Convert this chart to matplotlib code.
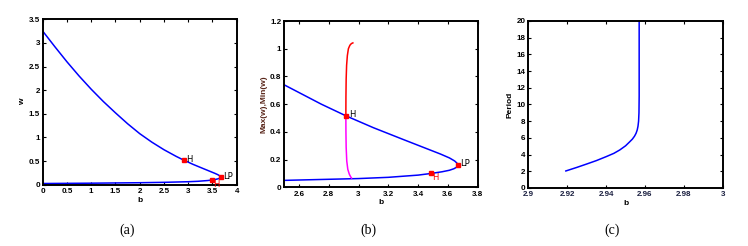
import matplotlib
matplotlib.use("Agg")
import matplotlib.pyplot as plt

# (a) equilibrium branch, b vs w
a_up_b = [0.0, 0.25, 0.5, 0.75, 1.0, 1.25, 1.5, 1.75, 2.0, 2.25, 2.5, 2.75, 2.915,
          3.1, 3.3, 3.45, 3.55, 3.61, 3.645, 3.66, 3.667]
a_up_w = [3.25, 2.92, 2.6, 2.3, 2.02, 1.76, 1.52, 1.29, 1.08, 0.9, 0.74, 0.6, 0.516,
          0.43, 0.345, 0.282, 0.24, 0.212, 0.19, 0.175, 0.16]
a_lo_b = [0.0, 1.0, 2.0, 2.5, 3.0, 3.2, 3.4, 3.487, 3.56, 3.61, 3.64, 3.658, 3.667]
a_lo_w = [0.025, 0.032, 0.042, 0.05, 0.063, 0.072, 0.088, 0.100, 0.112, 0.123, 0.134, 0.145, 0.16]

# (b) periodic orbit max / min
max_b = [2.915, 2.9155, 2.917, 2.92, 2.925, 2.932, 2.942, 2.952, 2.962]
max_w = [0.516, 0.65, 0.78, 0.88, 0.95, 1.0, 1.025, 1.037, 1.042]
min_b = [2.915, 2.9155, 2.917, 2.921, 2.928, 2.938, 2.947, 2.953]
min_w = [0.516, 0.40, 0.29, 0.19, 0.13, 0.095, 0.076, 0.067]

# bifurcation points
H1 = (2.915, 0.516)
H2 = (3.487, 0.100)
LP = (3.667, 0.16)

# (c) period vs b
c_b = [2.9193, 2.925, 2.93, 2.935, 2.94, 2.944, 2.947, 2.95, 2.952, 2.9535, 2.9546,
       2.9554, 2.956, 2.9564, 2.9567, 2.9569, 2.957, 2.957]
c_p = [2.04, 2.47, 2.87, 3.28, 3.75, 4.15, 4.55, 5.05, 5.5, 5.85, 6.2,
       6.55, 6.95, 7.4, 8.0, 9.0, 11.0, 20.0]

BLUE = (0, 0, 1)
RED = (1, 0, 0)
MAG = (1, 0, 1)

fig = plt.figure(figsize=(7.48, 2.46), dpi=100)
ax1 = fig.add_axes([0.0571, 0.2492, 0.2594, 0.6724])
ax2 = fig.add_axes([0.3797, 0.2386, 0.2590, 0.6760])
ax3 = fig.add_axes([0.7063, 0.2358, 0.2600, 0.6790])

lab_font = dict(fontsize=6, fontweight="bold", family="Liberation Sans")


def style(ax):
    ax.tick_params(direction="in", length=2.5, width=0.8, top=True, right=True, pad=2)
    ax.tick_params(axis="x", pad=2.5)
    for sp in ax.spines.values():
        sp.set_linewidth(1.4)
    for t in ax.get_xticklabels() + ax.get_yticklabels():
        t.set_fontsize(5.8)
        t.set_fontweight("bold")
        t.set_family("Liberation Sans")


def mark(ax, pt):
    ax.plot(pt[0], pt[1], "s", color=RED, ms=3, mec=RED)


# (a)
ax1.plot(a_up_b, a_up_w, color=BLUE, lw=1.1)
ax1.plot(a_lo_b, a_lo_w, color=BLUE, lw=1.1)
for pt in (H1, H2, LP):
    mark(ax1, pt)
ax1.text(H1[0] + 0.05, H1[1] + 0.01, "H", fontsize=6, va="center")
ax1.text(LP[0] + 0.06, LP[1] + 0.02, "LP", fontsize=6, va="center")
ax1.text(H2[0] + 0.02, H2[1] - 0.1, "H", fontsize=6, va="center", color=RED)
ax1.set_xlim(0, 4)
ax1.set_ylim(0, 3.5)
ax1.set_xticks([0, 0.5, 1, 1.5, 2, 2.5, 3, 3.5, 4])
ax1.set_xticklabels(["0", "0.5", "1", "1.5", "2", "2.5", "3", "3.5", "4"])
ax1.set_yticks([0, 0.5, 1, 1.5, 2, 2.5, 3, 3.5])
ax1.set_yticklabels(["0", "0.5", "1", "1.5", "2", "2.5", "3", "3.5"])
ax1.set_xlabel("b", labelpad=1, **lab_font)
ax1.set_ylabel("w", labelpad=2, **lab_font)
style(ax1)

# (b)
ax2.plot(a_up_b, a_up_w, color=BLUE, lw=1.1)
ax2.plot(a_lo_b, a_lo_w, color=BLUE, lw=1.1)
ax2.plot(max_b, max_w, color=RED, lw=1.1)
ax2.plot(min_b, min_w, color=MAG, lw=1.1)
for pt in (H1, H2, LP):
    mark(ax2, pt)
ax2.text(H1[0] + 0.02, H1[1] + 0.01, "H", fontsize=6, va="center")
ax2.text(LP[0] + 0.015, LP[1] + 0.012, "LP", fontsize=6, va="center")
ax2.text(H2[0] + 0.01, H2[1] - 0.028, "H", fontsize=6, va="center", color=RED)
ax2.set_xlim(2.5, 3.8)
ax2.set_ylim(0, 1.2)
ax2.set_xticks([2.6, 2.8, 3.0, 3.2, 3.4, 3.6, 3.8])
ax2.set_xticklabels(["2.6", "2.8", "3", "3.2", "3.4", "3.6", "3.8"])
ax2.set_yticks([0, 0.2, 0.4, 0.6, 0.8, 1.0, 1.2])
ax2.set_yticklabels(["0", "0.2", "0.4", "0.6", "0.8", "1", "1.2"])
ax2.set_xlabel("b", labelpad=1, **lab_font)
ax2.set_ylabel("Max(w),Min(w)", labelpad=2, color=(0.35, 0.15, 0.1), **lab_font)
style(ax2)

# (c)
ax3.plot(c_b, c_p, color=BLUE, lw=1.1)
ax3.set_xlim(2.9, 3.0)
ax3.set_ylim(0, 20)
ax3.set_xticks([2.9, 2.92, 2.94, 2.96, 2.98, 3.0])
ax3.set_xticklabels(["2.9", "2.92", "2.94", "2.96", "2.98", "3"])
ax3.set_yticks(range(0, 21, 2))
ax3.set_xlabel("b", labelpad=1, **lab_font)
ax3.set_ylabel("Period", labelpad=2, **lab_font)
style(ax3)
for t in ax3.get_xticklabels():
    t.set_color((0.1, 0.12, 0.25))

for x, s in ((127, "(a)"), (368, "(b)"), (612, "(c)")):
    fig.text(x / 748, 1 - 230 / 246, s, ha="center", va="center",
             fontsize=10, family="Liberation Serif")

fig.savefig("out.png", dpi=100)
